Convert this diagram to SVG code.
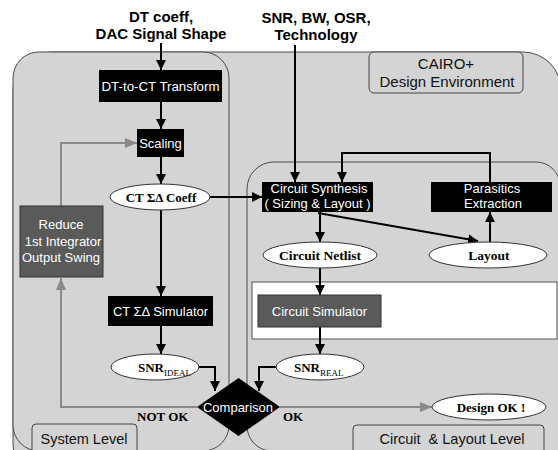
<svg xmlns="http://www.w3.org/2000/svg" width="558" height="450" viewBox="0 0 558 450">
<style>
.panel{fill:#d4d4d4;stroke:#4a4a4a;stroke-width:1}
.blk{fill:#000}
.dg{fill:#5a5a5a;stroke:#333;stroke-width:1}
.ell{fill:#fff;stroke:#333;stroke-width:1}
.wt{font-family:"Liberation Sans",Arial,sans-serif;font-size:13px;fill:#fff;text-anchor:middle}
.st{font-family:"Liberation Serif","Times New Roman",serif;font-size:13px;font-weight:bold;fill:#000;text-anchor:middle}
.hd{font-family:"Liberation Sans",Arial,sans-serif;font-size:15px;font-weight:bold;fill:#000;text-anchor:middle}
.lb{font-family:"Liberation Sans",Arial,sans-serif;font-size:14.5px;fill:#111;text-anchor:middle}
.k{fill:none;stroke:#000;stroke-width:2}
.g{fill:none;stroke:#8a8a8a;stroke-width:2}
.lvl{fill:#d4d4d4;stroke:#444;stroke-width:1}
</style>
<defs>
<marker id="ak" markerUnits="userSpaceOnUse" markerWidth="10" markerHeight="10" refX="10" refY="5" orient="auto"><path d="M0,0 L10,5 L0,10 z" fill="#000"/></marker>
<marker id="ag" markerUnits="userSpaceOnUse" markerWidth="12" markerHeight="10" refX="12" refY="5" orient="auto"><path d="M0,0 L12,5 L0,10 z" fill="#8a8a8a"/></marker>
</defs>
<rect width="558" height="450" fill="#fff"/>
<g id="environment">
<rect class="panel" x="13" y="52" width="548" height="430" rx="38"/>
<g id="cairo"><rect x="369" y="52" width="154" height="41" rx="5" fill="#d4d4d4" stroke="#444" stroke-width="1"/>
<text class="lb" x="446" y="69" style="font-size:15px">CAIRO+</text>
<text class="lb" x="447" y="87" style="font-size:15px">Design Environment</text></g>
</g>
<g id="system-panel">
<rect class="panel" x="13" y="52" width="216" height="399" rx="26"/>
</g>
<g id="circuit-panel">
<path class="panel" d="M247,189 A27,27 0 0 1 274,162 H536 A24,24 0 0 1 560,186 V451 H272 A25,25 0 0 1 247,426 Z"/>
<rect x="252" y="282" width="305" height="57" fill="#fff" stroke="#555" stroke-width="1"/>
</g>
<g id="inputs">
<text class="hd" x="161" y="22">DT coeff,</text>
<text class="hd" x="161" y="39">DAC Signal Shape</text>
<text class="hd" x="316" y="23">SNR, BW, OSR,</text>
<text class="hd" x="316" y="40">Technology</text>
</g>
<g id="connectors">
<path class="k" d="M161,43 V70" marker-end="url(#ak)"/>
<path class="k" d="M161,102 V129" marker-end="url(#ak)"/>
<path class="k" d="M161,157 V184" marker-end="url(#ak)"/>
<path class="k" d="M161,210 V296" marker-end="url(#ak)"/>
<path class="k" d="M210,197 H262" marker-end="url(#ak)"/>
<path class="k" d="M295,45 V182" marker-end="url(#ak)"/>
<path class="k" d="M490,182 V153 H342 V182" marker-end="url(#ak)"/>
<path class="k" d="M320,212 V242" marker-end="url(#ak)"/>
<path class="k" d="M318,213 L478,241" marker-end="url(#ak)"/>
<path class="k" d="M490,242 V212" marker-end="url(#ak)"/>
<path class="k" d="M320,268 V295" marker-end="url(#ak)"/>
<path class="k" d="M320,327 V354" marker-end="url(#ak)"/>
<path class="k" d="M161,326 V354" marker-end="url(#ak)"/>
<path class="k" d="M198,367 H215 V391" marker-end="url(#ak)"/>
<path class="k" d="M276,367 H259 V391" marker-end="url(#ak)"/>
<path class="g" d="M280,407 H432" marker-end="url(#ag)"/>
<path class="g" d="M197,407 H61 V278" marker-end="url(#ag)"/>
<path class="g" d="M61,206 V143 H137" marker-end="url(#ag)"/>
</g>
<g id="dt-to-ct"><rect class="blk" x="99" y="70" width="123" height="32"/><text class="wt" x="160.5" y="91" style="font-size:13.3px">DT-to-CT Transform</text></g>
<g id="scaling"><rect class="blk" x="137" y="129" width="47" height="28"/><text class="wt" x="160.5" y="148">Scaling</text></g>
<g id="ct-coeff"><ellipse class="ell" cx="160" cy="197" rx="50" ry="13"/><text class="st" x="161" y="201.5">CT ΣΔ Coeff</text></g>
<g id="reduce"><rect class="dg" x="20" y="206" width="83" height="71"/>
<text class="wt" x="61" y="229">Reduce</text><text class="wt" x="63" y="246">1st Integrator</text><text class="wt" x="61" y="262">Output Swing</text></g>
<g id="ct-simulator"><rect class="blk" x="108" y="296" width="105" height="30"/><text class="wt" x="160.5" y="316">CT ΣΔ Simulator</text></g>
<g id="snr-ideal"><ellipse class="ell" cx="155" cy="367" rx="44" ry="13"/><text class="st" x="138" y="372" style="text-anchor:start">SNR<tspan dy="4" style="font-size:9px;font-weight:normal">IDEAL</tspan></text></g>
<g id="circuit-synthesis"><rect class="blk" x="262" y="182" width="111" height="30"/><text class="wt" x="319" y="193">Circuit Synthesis</text><text class="wt" x="317.5" y="208">( Sizing &amp; Layout )</text></g>
<g id="parasitics"><rect class="blk" x="431" y="182" width="121" height="30"/><text class="wt" x="492" y="193">Parasitics</text><text class="wt" x="493" y="208">Extraction</text></g>
<g id="netlist"><ellipse class="ell" cx="320" cy="255" rx="57" ry="13"/><text class="st" x="320" y="259.5" style="font-size:13.5px">Circuit Netlist</text></g>
<g id="layout"><ellipse class="ell" cx="488" cy="255" rx="59" ry="13"/><text class="st" x="489" y="259.5" style="font-size:13.5px">Layout</text></g>
<g id="circuit-simulator"><rect class="dg" x="258" y="295" width="123" height="32"/><text class="wt" x="319.5" y="316">Circuit Simulator</text></g>
<g id="snr-real"><ellipse class="ell" cx="320" cy="367" rx="44" ry="13"/><text class="st" x="294" y="372" style="text-anchor:start">SNR<tspan dy="4" style="font-size:9px;font-weight:normal">REAL</tspan></text></g>
<g id="comparison"><path d="M238.5,378 L280,407 L238.5,436 L197,407 Z" fill="#000"/><text class="wt" x="238" y="412">Comparison</text></g>
<g id="design-ok"><ellipse class="ell" cx="489" cy="407" rx="57" ry="13"/><text class="st" x="491" y="411.5">Design OK !</text></g>
<g id="labels">
<text class="st" x="137" y="421" style="text-anchor:start">NOT OK</text>
<text class="st" x="283" y="421" style="text-anchor:start">OK</text>
</g>
<g id="system-level"><rect class="lvl" x="32" y="424" width="105" height="35" rx="4"/><text class="lb" x="84" y="444">System Level</text></g>
<g id="circuit-level"><rect class="lvl" x="353" y="425" width="191" height="35" rx="4"/><text class="lb" x="452" y="444" style="white-space:pre">Circuit  &amp; Layout Level</text></g>
</svg>
